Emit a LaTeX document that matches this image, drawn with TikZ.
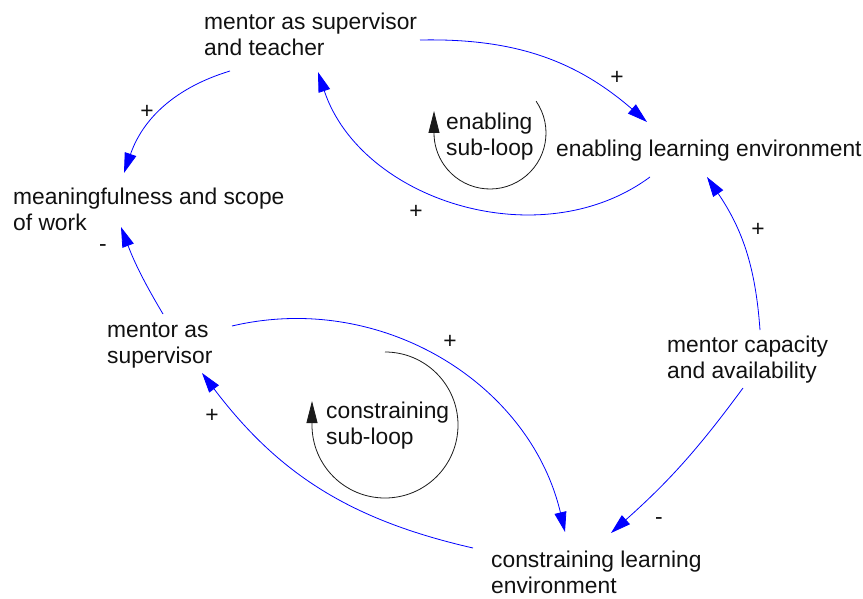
\documentclass[tikz,border=0pt]{standalone}
\usepackage{fontspec}
\setsansfont{Liberation Sans}
\usepackage{tikz}
\usetikzlibrary{arrows.meta}
\definecolor{cldLink}{HTML}{0000FF}
\definecolor{cldInk}{HTML}{111111}
\definecolor{cldLoop}{HTML}{1A1A1A}
\tikzset{
  cld diagram/.style={x=1pt, y=-1pt, text=cldInk,
    font=\sffamily\fontsize{22.8}{26}\selectfont},
  cld var/.style={anchor=base west, align=left, inner sep=0pt},
  cld link/.style={-{Triangle[length=20pt,width=12pt]}, draw=cldLink,
    line width=0.8pt},
  cld sign/.style={inner sep=0pt},
  cld loop/.style={-{Triangle[length=22pt,width=11pt]}, draw=cldLoop,
    fill=none, line width=0.8pt}
}

\begin{document}
\begin{tikzpicture}[cld diagram]
\useasboundingbox (0,0) rectangle (863,599);
% variables (base = last line)
\node[cld var] (teacher) at (204,56) {mentor as supervisor\\and teacher};
\node[cld var] (meaning) at (13,231) {meaningfulness and scope\\of work};
\node[cld var] (supervisor) at (107,363) {mentor as\\supervisor};
\node[cld var] (enabling) at (556,157) {enabling learning environment};
\node[cld var] (capacity) at (667,378) {mentor capacity\\and availability};
\node[cld var] (constraining) at (491,593) {constraining learning\\environment};
% links
\draw[cld link] ([shift={(26,15)}]teacher.base west) to[bend right=27]
  ([shift={(111,-58)}]meaning.base west);
\draw[cld link] ([shift={(56,-49)}]supervisor.base west) to[bend left=5]
  ([shift={(108,-4)}]meaning.base west);
\draw[cld link] ([shift={(216,-16)}]teacher.base west) to[bend left=21]
  ([shift={(91,-35)}]enabling.base west);
\draw[cld link] ([shift={(94,20)}]enabling.base west) to[bend left=54]
  ([shift={(114,16)}]teacher.base west);
\draw[cld link] ([shift={(93,-48)}]capacity.base west) to[bend right=15]
  ([shift={(151,20)}]enabling.base west);
\draw[cld link] ([shift={(76,10)}]capacity.base west) to[bend left=6]
  ([shift={(120,-60)}]constraining.base west);
\draw[cld link] ([shift={(125,-37)}]supervisor.base west) to[bend left=45]
  ([shift={(74,-61)}]constraining.base west);
\draw[cld link] ([shift={(-18,-45)}]constraining.base west) to[bend left=20]
  ([shift={(95,10)}]supervisor.base west);
% polarities
\node[cld sign] (pol teach mean) at (147,112) {+};
\node[cld sign] (pol sup mean) at (103,248) {-};
\node[cld sign] (pol teach enab) at (617,78) {+};
\node[cld sign] (pol enab teach) at (416,212) {+};
\node[cld sign] (pol cap enab) at (758,230) {+};
\node[cld sign] (pol cap cons) at (659,521) {-};
\node[cld sign] (pol sup cons) at (450,342) {+};
\node[cld sign] (pol cons sup) at (212,416) {+};
% loops
\coordinate (enabling loop) at (490,133);
\coordinate (constraining loop) at (385,425);
\draw[cld loop] (enabling loop) ++(-34.6:56) arc[start angle=-34.6, end angle=180, radius=56]
  -- ++(0,-22);
\draw[cld loop] (constraining loop) ++(-90:73) arc[start angle=-90, end angle=180, radius=73]
  -- ++(0,-24);
\node[cld var] (enabling loop name) at (446,156) {enabling\\sub-loop};
\node[cld var] (constraining loop name) at (326,444) {constraining\\sub-loop};
\end{tikzpicture}
\end{document}
